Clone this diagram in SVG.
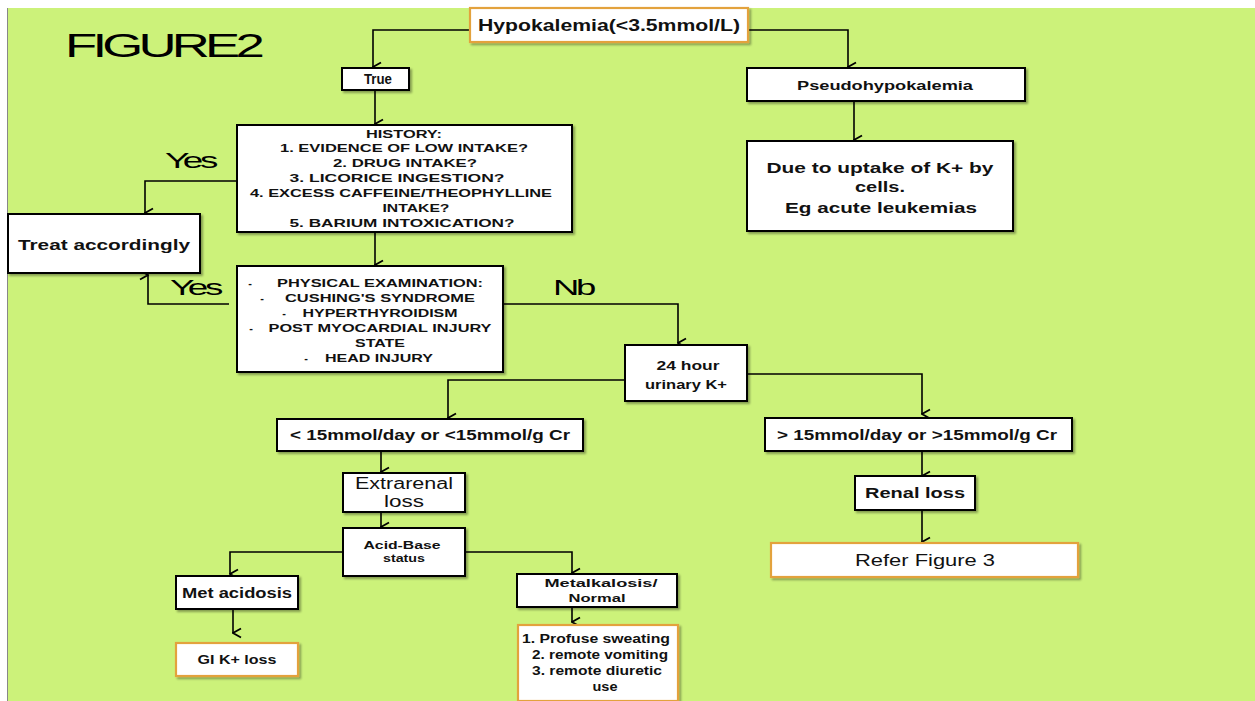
<svg xmlns="http://www.w3.org/2000/svg" width="1255" height="701" viewBox="0 0 1255 701">
<style>
.box{fill:#fff;stroke:#000;stroke-width:2;filter:url(#sh)}
.obox{fill:#fff;stroke:#E3A23C;stroke-width:2.2;filter:url(#sh)}
.t{font-family:"Liberation Sans",Arial,sans-serif;font-weight:bold;fill:#111;text-anchor:middle}
.n{font-family:"Liberation Sans",Arial,sans-serif;fill:#111;text-anchor:middle}
.s{font-size:11px}
.c{fill:none;stroke:#000;stroke-width:1.6}
.lab{font-family:"Liberation Sans",Arial,sans-serif;fill:#000;font-size:22px;letter-spacing:-2px}
</style>
<defs>
<filter id="sh" x="-10%" y="-10%" width="130%" height="140%">
<feDropShadow dx="2" dy="2" stdDeviation="1" flood-color="#000" flood-opacity="0.35"/>
</filter>
<marker id="ar" viewBox="0 0 12 12" refX="6" refY="11" markerWidth="12" markerHeight="12" markerUnits="userSpaceOnUse" orient="auto-start-reverse">
<path d="M1.5,3 L6,11 L10.5,3" fill="none" stroke="#000" stroke-width="1.8"/>
</marker>
</defs>
<rect x="0" y="0" width="1255" height="701" fill="#fff"/>
<rect x="7" y="8" width="1248" height="693" fill="#CCF27A"/>
<line x1="7.5" y1="8" x2="7.5" y2="701" stroke="#888" stroke-width="1"/>

<text x="65" y="57" font-family="Liberation Sans,Arial,sans-serif" font-size="33" textLength="195" lengthAdjust="spacingAndGlyphs" letter-spacing="-3">FIGURE2</text>

<g id="connectors">
<path class="c" d="M470,30 H373 V67" marker-end="url(#ar)"/>
<path class="c" d="M748,30 H848 V67" marker-end="url(#ar)"/>
<path class="c" d="M375,90 V124" marker-end="url(#ar)"/>
<path class="c" d="M854,101 V140" marker-end="url(#ar)"/>
<path class="c" d="M237,181 H145 V213" marker-end="url(#ar)"/>
<path class="c" d="M375,232 V265" marker-end="url(#ar)"/>
<path class="c" d="M229,304 H148 V275" marker-end="url(#ar)"/>
<path class="c" d="M503,304 H678 V343" marker-end="url(#ar)"/>
<path class="c" d="M625,380 H448 V418" marker-end="url(#ar)"/>
<path class="c" d="M747,374 H922 V414" marker-end="url(#ar)"/>
<path class="c" d="M381,451 V472" marker-end="url(#ar)"/>
<path class="c" d="M381,512 V527" marker-end="url(#ar)"/>
<path class="c" d="M343,552 H230 V574" marker-end="url(#ar)"/>
<path class="c" d="M465,552 H572 V573" marker-end="url(#ar)"/>
<path class="c" d="M233,609 V633" marker-end="url(#ar)"/>
<path class="c" d="M572,607 V622" marker-end="url(#ar)"/>
<path class="c" d="M922,451 V476" marker-end="url(#ar)"/>
<path class="c" d="M922,510 V542" marker-end="url(#ar)"/>
</g>

<text class="lab" x="165" y="168" textLength="50" lengthAdjust="spacingAndGlyphs">Yes</text>
<text class="lab" x="170" y="295" textLength="50" lengthAdjust="spacingAndGlyphs">Yes</text>
<text class="lab" x="553" y="295" textLength="40" lengthAdjust="spacingAndGlyphs">Nb</text>

<g id="hypokalemia">
<rect class="obox" x="470" y="8" width="278" height="34"/>
<text class="t" x="609" y="31" font-size="16" textLength="262" lengthAdjust="spacingAndGlyphs">Hypokalemia(&lt;3.5mmol/L)</text>
</g>

<g id="true">
<rect class="box" x="342" y="68" width="67" height="22"/>
<text class="t" x="378" y="84" font-size="14" textLength="28" lengthAdjust="spacingAndGlyphs">True</text>
</g>

<g id="pseudo">
<rect class="box" x="747" y="68" width="278" height="33"/>
<text class="t" x="885" y="90" font-size="13" textLength="176" lengthAdjust="spacingAndGlyphs">Pseudohypokalemia</text>
</g>

<g id="uptake">
<rect class="box" x="747" y="141" width="266" height="90"/>
<text class="t" x="880" y="173" font-size="15" textLength="227" lengthAdjust="spacingAndGlyphs">Due to uptake of K+ by</text>
<text class="t" x="880" y="192" font-size="15" textLength="50" lengthAdjust="spacingAndGlyphs">cells.</text>
<text class="t" x="881" y="213" font-size="15" textLength="192" lengthAdjust="spacingAndGlyphs">Eg acute leukemias</text>
</g>

<g id="history">
<rect class="box" x="237" y="125" width="335" height="107"/>
<text class="t s" x="404" y="138" textLength="76" lengthAdjust="spacingAndGlyphs">HISTORY:</text>
<text class="t s" x="404" y="152" textLength="248" lengthAdjust="spacingAndGlyphs">1. EVIDENCE OF LOW INTAKE?</text>
<text class="t s" x="405" y="167" textLength="144" lengthAdjust="spacingAndGlyphs">2. DRUG INTAKE?</text>
<text class="t s" x="397" y="182" textLength="215" lengthAdjust="spacingAndGlyphs">3. LICORICE INGESTION?</text>
<text class="t s" x="401" y="197" textLength="302" lengthAdjust="spacingAndGlyphs">4. EXCESS CAFFEINE/THEOPHYLLINE</text>
<text class="t s" x="416" y="212" textLength="67" lengthAdjust="spacingAndGlyphs">INTAKE?</text>
<text class="t s" x="402" y="227" textLength="225" lengthAdjust="spacingAndGlyphs">5. BARIUM INTOXICATION?</text>
</g>

<g id="treat">
<rect class="box" x="8" y="214" width="192" height="59"/>
<text class="t" x="104" y="250" font-size="15" textLength="172" lengthAdjust="spacingAndGlyphs">Treat accordingly</text>
</g>

<g id="physical">
<rect class="box" x="237" y="266" width="266" height="106"/>
<text class="t s" x="250" y="287">-</text><text class="t s" x="380" y="287" textLength="206" lengthAdjust="spacingAndGlyphs">PHYSICAL EXAMINATION:</text>
<text class="t s" x="262" y="302">-</text><text class="t s" x="380" y="302" textLength="190" lengthAdjust="spacingAndGlyphs">CUSHING'S SYNDROME</text>
<text class="t s" x="284" y="317">-</text><text class="t s" x="380" y="317" textLength="155" lengthAdjust="spacingAndGlyphs">HYPERTHYROIDISM</text>
<text class="t s" x="251" y="332">-</text><text class="t s" x="380" y="332" textLength="223" lengthAdjust="spacingAndGlyphs">POST MYOCARDIAL INJURY</text>
<text class="t s" x="380" y="347" textLength="50" lengthAdjust="spacingAndGlyphs">STATE</text>
<text class="t s" x="306" y="362">-</text><text class="t s" x="379" y="362" textLength="108" lengthAdjust="spacingAndGlyphs">HEAD INJURY</text>
</g>

<g id="urinary">
<rect class="box" x="625" y="345" width="122" height="56"/>
<text class="t" x="688" y="370" font-size="13" textLength="63" lengthAdjust="spacingAndGlyphs">24 hour</text>
<text class="t" x="686" y="389" font-size="13" textLength="82" lengthAdjust="spacingAndGlyphs">urinary K+</text>
</g>

<g id="low">
<rect class="box" x="277" y="419" width="306" height="32"/>
<text class="t" x="430" y="440" font-size="14" textLength="280" lengthAdjust="spacingAndGlyphs">&lt; 15mmol/day or &lt;15mmol/g Cr</text>
</g>

<g id="high">
<rect class="box" x="765" y="418" width="307" height="33"/>
<text class="t" x="917" y="440" font-size="14" textLength="280" lengthAdjust="spacingAndGlyphs">&gt; 15mmol/day or &gt;15mmol/g Cr</text>
</g>

<g id="extrarenal">
<rect class="box" x="343" y="473" width="122" height="39"/>
<text class="n" x="404" y="489" font-size="16" textLength="98" lengthAdjust="spacingAndGlyphs">Extrarenal</text>
<text class="n" x="404" y="507" font-size="16" textLength="40" lengthAdjust="spacingAndGlyphs">loss</text>
</g>

<g id="acidbase">
<rect class="box" x="343" y="528" width="122" height="48"/>
<text class="t s" x="402" y="549" textLength="77" lengthAdjust="spacingAndGlyphs">Acid-Base</text>
<text class="t s" x="404" y="562" textLength="42" lengthAdjust="spacingAndGlyphs">status</text>
</g>

<g id="metacidosis">
<rect class="box" x="176" y="576" width="122" height="33"/>
<text class="t" x="237" y="598" font-size="14" textLength="110" lengthAdjust="spacingAndGlyphs">Met acidosis</text>
</g>

<g id="giloss">
<rect class="obox" x="176" y="643" width="122" height="33"/>
<text class="t" x="237" y="664" font-size="12" textLength="79" lengthAdjust="spacingAndGlyphs">GI K+ loss</text>
</g>

<g id="metalkalosis">
<rect class="box" x="517" y="574" width="160" height="33"/>
<text class="t s" x="601" y="587" textLength="113" lengthAdjust="spacingAndGlyphs">Metalkalosis/</text>
<text class="t s" x="597" y="602" textLength="57" lengthAdjust="spacingAndGlyphs">Normal</text>
</g>

<g id="causes">
<rect class="obox" x="518" y="625" width="160" height="76"/>
<text class="t" x="596" y="643" font-size="12" textLength="148" lengthAdjust="spacingAndGlyphs">1. Profuse sweating</text>
<text class="t" x="600" y="659" font-size="12" textLength="136" lengthAdjust="spacingAndGlyphs">2. remote vomiting</text>
<text class="t" x="597" y="675" font-size="12" textLength="130" lengthAdjust="spacingAndGlyphs">3. remote diuretic</text>
<text class="t" x="605" y="691" font-size="12" textLength="25" lengthAdjust="spacingAndGlyphs">use</text>
</g>

<g id="renal">
<rect class="box" x="855" y="476" width="120" height="34"/>
<text class="t" x="915" y="498" font-size="15" textLength="100" lengthAdjust="spacingAndGlyphs">Renal loss</text>
</g>

<g id="refer">
<rect class="obox" x="771" y="543" width="307" height="34"/>
<text class="n" x="925" y="566" font-size="16" textLength="140" lengthAdjust="spacingAndGlyphs">Refer Figure 3</text>
</g>
</svg>
